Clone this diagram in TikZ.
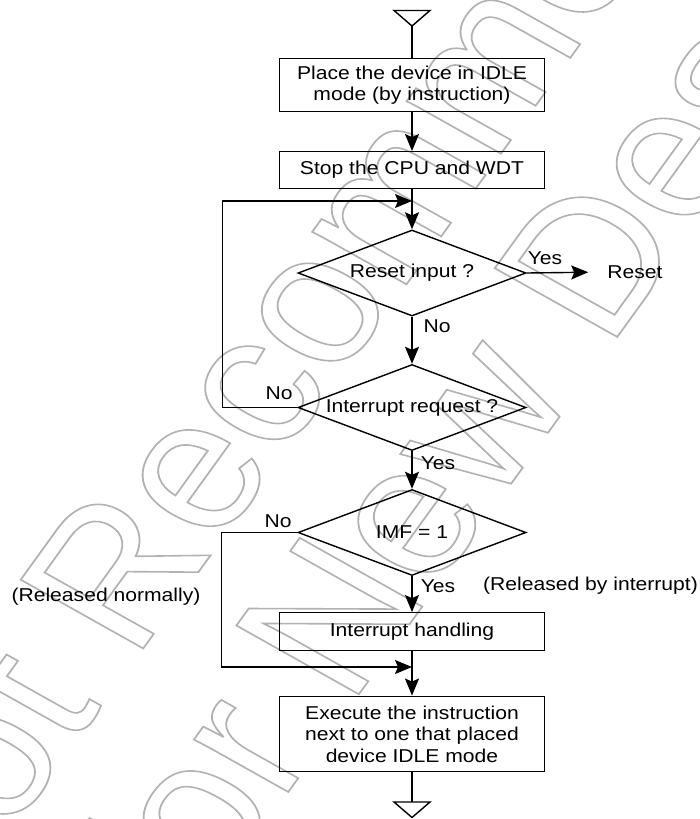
\documentclass[tikz,border=0pt]{standalone}
\usepackage{fontspec}
\setmainfont{Liberation Sans}[FakeStretch=1.135]
\newfontfamily\wmfont{Liberation Sans}
\usetikzlibrary{shapes.geometric,arrows.meta}
\newcommand\wmstroke{\special{pdf:literal direct 1 Tr 1.6 w}}
\tikzset{
  box/.style={draw,line width=1.4pt,minimum width=265pt,inner sep=0pt,align=center},
  decision/.style={diamond,draw,line width=1.4pt,minimum width=228pt,minimum height=86pt,aspect=2.65,inner sep=0pt},
  flow/.style={line width=1.4pt,-{Stealth[length=17pt,width=14pt,inset=3pt]}},
  link/.style={line width=1.4pt},
  lbl/.style={inner sep=0pt},
  wmark/.style={rotate=57.5,transform shape,anchor=base west,inner sep=0pt,text=black!30,
    font=\wmfont\fontsize{186}{186}\selectfont}
}
\begin{document}
\begin{tikzpicture}[x=1pt,y=-1pt,font=\fontsize{18.6}{21.5}\selectfont]
\useasboundingbox (0,0) rectangle (699,819);
% watermark
\begin{scope}[xscale=1.135]
\node[wmark] (wm1) at (-65.3,949) {\wmstroke Not Recommended};
\node[wmark] (wm2) at (163.6,933.8) {\wmstroke for New Design};
\end{scope}
% boxes and decisions
\node[box,minimum height=53pt] (place) at (412,85) {Place the device in IDLE\\mode (by instruction)};
\node[box,minimum height=36.5pt] (halt) at (412,170) {Stop the CPU and WDT};
\node[decision] (rst) at (412,273) {Reset input ?};
\node[decision] (irq) at (412,407.5) {Interrupt request ?};
\node[decision] (imf) at (412,532.5) {IMF = 1};
\node[box,minimum height=37.5pt] (isr) at (412,631.5) {Interrupt handling};
\node[box,minimum height=75.5pt] (resume) at (412,734) {Execute the instruction\\next to one that placed\\device IDLE mode};
% labels
\node[lbl] (reset) at (635,272) {Reset};
\node[lbl] (yes1) at (545,258.5) {Yes};
\node[lbl] (no1) at (437,326.5) {No};
\node[lbl] (no2) at (279,393) {No};
\node[lbl] (yes2) at (438,463) {Yes};
\node[lbl] (no3) at (278,521) {No};
\node[lbl] (yes3) at (438,585.7) {Yes};
\node[lbl] (relint) at (590.5,585.7) {(Released by interrupt)};
\node[lbl] (relnorm) at (106,597) {(Released normally)};
% terminals
\coordinate (entry) at (412,26);
\coordinate (exit) at (412,802);
\coordinate (join1) at (412,201);
\coordinate (join2) at (412,667);
\draw[link] (entry) -- ++(-18,-15.5) -- ++(36,0) -- cycle;
\draw[link] (exit) -- ++(-18,0) -- ++(18,15.5) -- ++(18,-15.5) -- cycle;
% connectors
\draw[link] (entry) -- (place);
\draw[flow] (place) -- (halt);
\draw[link] (halt) -- (join1);
\draw[flow] (join1) -- (rst);
\draw[flow] (rst.east) -- (reset.west) [shorten >=19pt];
\draw[flow] (rst) -- (irq);
\draw[flow] (irq.west) -- ++(-75,0) |- (join1);
\draw[flow] (irq) -- (imf);
\draw[flow] (imf) -- (isr);
\draw[flow] (imf.west) -- ++(-76,0) |- (join2);
\draw[link] (isr) -- (join2);
\draw[flow] (join2) -- (resume);
\draw[link] (resume) -- (exit);
\end{tikzpicture}
\end{document}
